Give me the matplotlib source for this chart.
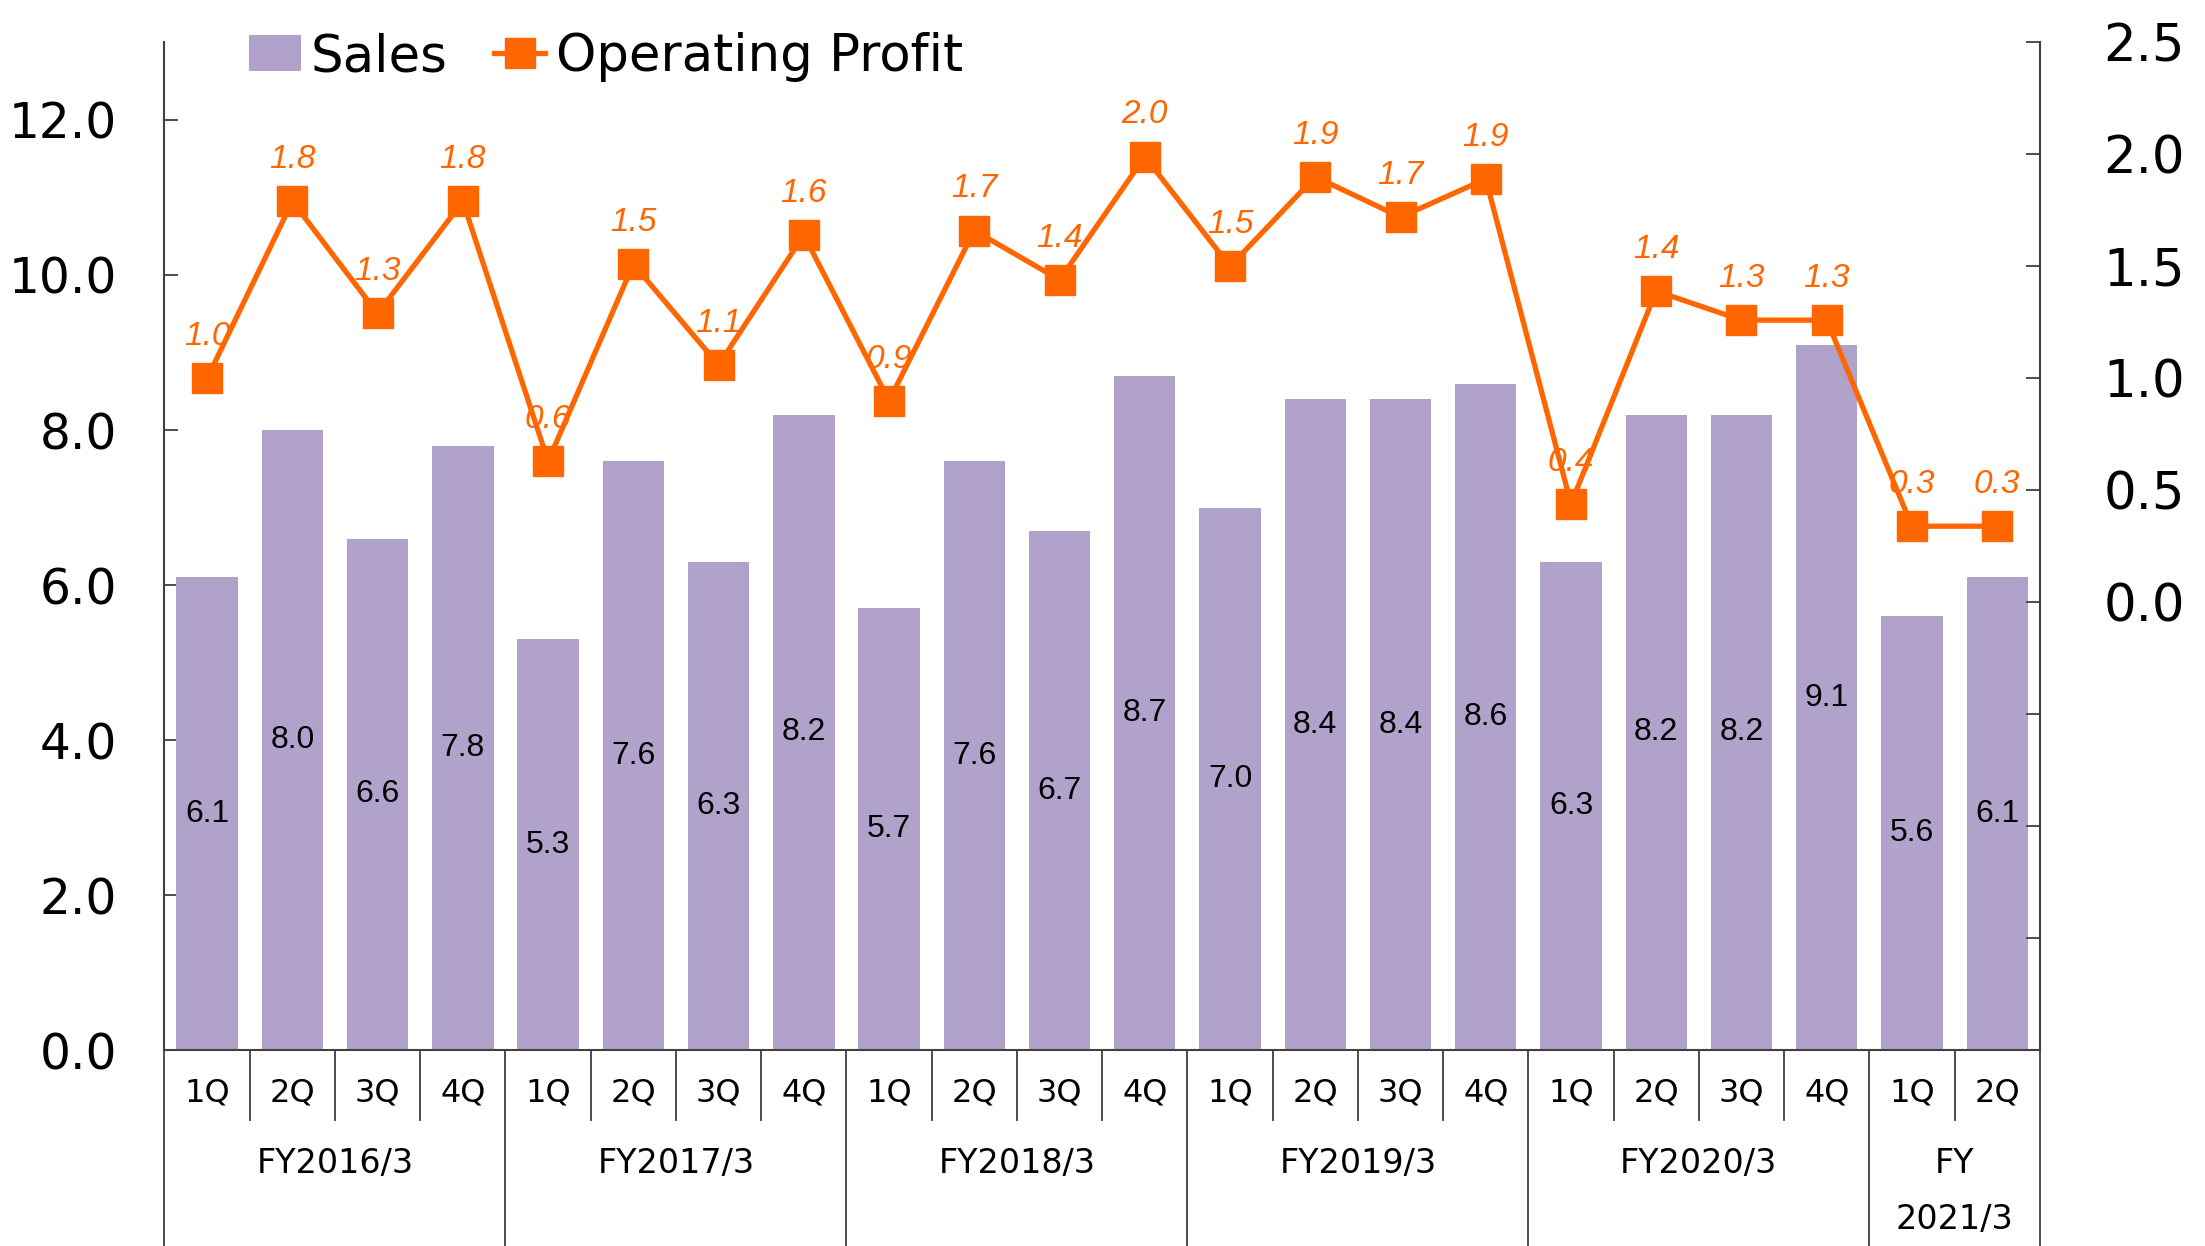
#!/usr/bin/env python3
"""Quarterly sales (bars) and operating profit (line), FY2016/3 - FY2021/3."""

import matplotlib

matplotlib.use("Agg")
import matplotlib.pyplot as plt
from matplotlib.ticker import FixedLocator, FuncFormatter

years = ["FY2016/3", "FY2017/3", "FY2018/3", "FY2019/3", "FY2020/3", "FY\n2021/3"]
quarters_per_year = [4, 4, 4, 4, 4, 2]
quarters = ["1Q", "2Q", "3Q", "4Q"] * 5 + ["1Q", "2Q"]

sales = [6.1, 8.0, 6.6, 7.8, 5.3, 7.6, 6.3, 8.2, 5.7, 7.6, 6.7, 8.7,
         7.0, 8.4, 8.4, 8.6, 6.3, 8.2, 8.2, 9.1, 5.6, 6.1]
profit = [1.00, 1.79, 1.29, 1.79, 0.63, 1.51, 1.06, 1.64, 0.90, 1.66, 1.44, 1.99,
          1.50, 1.90, 1.72, 1.89, 0.44, 1.39, 1.26, 1.26, 0.34, 0.34]

BAR = "#B0A2CA"
ORANGE = "#FF6600"
SPINE = "#404040"


def main() -> int:
    fig = plt.figure(figsize=(22.05, 12.46), dpi=100)
    ax = fig.add_axes([0.0746, 0.157, 0.8505, 0.809])
    x = list(range(len(sales)))

    bars = ax.bar(x, sales, width=0.72, color=BAR, label="Sales", zorder=2)
    for xi, v in zip(x, sales):
        ax.text(xi, v / 2, f"{v:.1f}", ha="center", va="center",
                fontsize=23, family="Liberation Sans", color="black", zorder=3)

    ax.set_xlim(-0.5, len(sales) - 0.5)
    ax.set_ylim(0, 13)
    ax.yaxis.set_major_locator(FixedLocator([0, 2, 4, 6, 8, 10, 12]))
    ax.yaxis.set_major_formatter(FuncFormatter(lambda v, p: f"{v:.1f}"))
    ax.tick_params(axis="y", direction="in", length=10, width=1.3, color=SPINE,
                   labelsize=35, pad=34)
    ax.set_xticks([])
    for side in ("top", "right"):
        ax.spines[side].set_visible(False)
    for side in ("left", "bottom"):
        ax.spines[side].set_color(SPINE)
        ax.spines[side].set_linewidth(1.5)

    ax2 = ax.twinx()
    line, = ax2.plot(x, profit, color=ORANGE, linewidth=3.8, marker="s",
                     markersize=22, label="Operating Profit", zorder=4)
    for xi, v in zip(x, profit):
        ax2.annotate(f"{v:.1f}", (xi, v), xytext=(0, 30), textcoords="offset points",
                     ha="center", va="center", fontsize=24, style="italic",
                     family="Liberation Sans", color=ORANGE)
    ax2.set_ylim(-2.0, 2.5)
    ax2.yaxis.set_major_locator(FixedLocator([-2.0, -1.5, -1.0, -0.5, 0.0, 0.5, 1.0, 1.5, 2.0, 2.5]))
    ax2.yaxis.set_major_formatter(FuncFormatter(lambda v, p: f"{v:.1f}" if v >= -1e-9 else ""))
    ax2.tick_params(axis="y", direction="in", length=10, width=1.3, color=SPINE,
                    labelsize=37, pad=46)
    for side in ("top", "left", "bottom"):
        ax2.spines[side].set_visible(False)
    ax2.spines["right"].set_color(SPINE)
    ax2.spines["right"].set_linewidth(1.5)

    # category axis drawn by hand under the plot
    tr = ax.get_xaxis_transform()
    for xi, q in zip(x, quarters):
        ax.text(xi, -0.042, q, transform=tr, ha="center", va="center", fontsize=23)
    start = -0.5
    bounds = [start]
    for name, n in zip(years, quarters_per_year):
        end = start + n
        mid = (start + end) / 2
        if "\n" in name:
            top, bottom = name.split("\n")
            ax.text(mid, -0.112, top, transform=tr, ha="center", va="center", fontsize=24)
            ax.text(mid, -0.168, bottom, transform=tr, ha="center", va="center", fontsize=24)
        else:
            ax.text(mid, -0.112, name, transform=tr, ha="center", va="center", fontsize=24)
        start = end
        bounds.append(end)
    for b in [i - 0.5 for i in range(len(sales) + 1)]:
        low = -0.2 if b in bounds else -0.069
        ax.plot([b, b], [0, low], transform=tr, color=SPINE, linewidth=1.3, clip_on=False)

    ax.set_zorder(ax2.get_zorder() - 1)
    ax2.patch.set_visible(False)
    fig.legend([bars, line], ["Sales", "Operating Profit"], loc="center left",
               bbox_to_anchor=(0.113, 0.954), ncol=2, frameon=False, fontsize=37,
               handlelength=1.0, handletextpad=0.2, columnspacing=0.9,
               borderaxespad=0, borderpad=0)

    fig.savefig("out.png")
    plt.close(fig)
    return 0


if __name__ == "__main__":
    raise SystemExit(main())
